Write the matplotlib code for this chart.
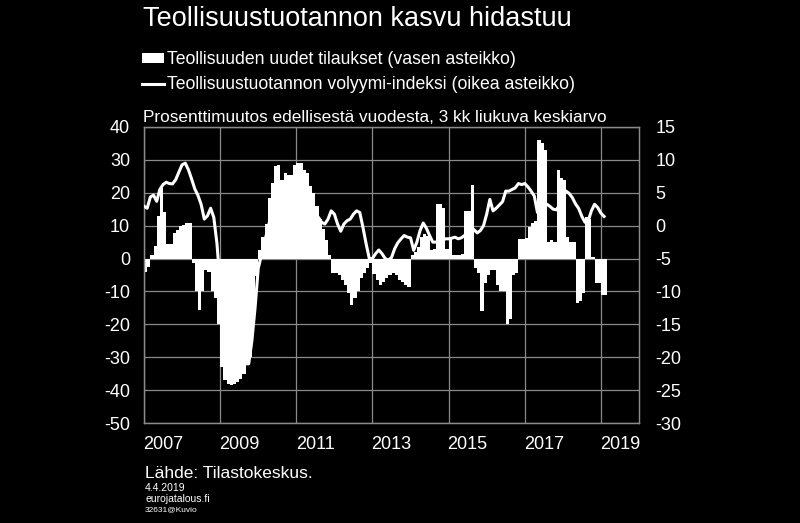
import numpy as np
import matplotlib
matplotlib.use("Agg")
import matplotlib.pyplot as plt

# Kuukausidata tammikuu 2007 - helmikuu 2019
alku_vuosi = 2007

# Teollisuuden uudet tilaukset, % (vasen asteikko)
tilaukset = [
    -4, -2.5, 1, 3.7, 12.8, 21.5, 14.3, 4.5, 4.5, 7.7, 8.8, 9.8,               # 2007
    10.3, 10.8, 10.8, -1.4, -10, -15.6, -10, -3.5, -4, -10, -12, -20,          # 2008
    -33, -37, -38, -38.5, -38, -37.5, -36.5, -35, -32.5, -30, -19.6, -5.4,     # 2009
    2.5, 6.5, 10.5, 18.5, 23, 28, 28.5, 24, 26, 25.5, 25.5, 28.5,              # 2010
    29, 29, 27, 26, 22, 20, 16, 12, 9, 5.5, 1, -4.5,                           # 2011
    -4.5, -5, -6.5, -8, -10.5, -14, -12, -10, -6, -4.5, -3, -1.5,              # 2012
    -4.6, -6.6, -8, -7, -6, -5, -4.5, -5, -6.5, -7, -8, -8.5,                  # 2013
    1, 2, 3.5, 6.5, 7.5, 7, 2.5, 3, 16.7, 16.5, 15.3, 3,                       # 2014
    6, 1, 1, 1, 1.5, 14.4, 14.4, 22.5, -3, -4.5, -16, -7.5,                    # 2015
    -5, -3.5, -3.5, -8, -10, -10, -19.8, -18.3, -5, -4.5, 6, 6,                # 2016
    6.2, 9.7, 10.8, 11.5, 36, 35, 33, 5, 5.5, 5, 27, 24.5,                     # 2017
    24, 6.5, 5, 5, -13.5, -13, -10.5, 12.5, 12, 0.5, -7.5, -7.5,               # 2018
    -11, -11,                                                                  # 2019
]

# Teollisuustuotannon volyymi-indeksi, % (oikea asteikko)
tuotanto = [
    2.95, 2.65, 4.35, 4.65, 3.7, 5.5, 6.25, 6.6, 6.4, 6.35, 7, 8.15,
    9.25, 9.5, 8.5, 7.1, 5.6, 4.6, 3.25, 1, 1.5, 2.65, 1.25, -2.75,
    -9, -14, -18, -20, -21.5, -22, -22, -21.5, -21, -21, -17.5, -12.5,
    -6.5, -4.5, -2.5, -0.5, 1.5, 3, 4, 5, 5.5, 6, 6, 6,
    5.5, 5, 4.5, 4, 3, 2, 0.5, 1.25, 0.5, 0.25, 1, 2.25,
    1.75, 0.25, -0.85, 0.25, 0.75, 1, 1.75, 2.25, 2, -0.25, -2.75, -5,
    -5, -4.25, -3.7, -4.25, -5, -5.25, -4.85, -3.5, -2.6, -2, -1.5, -1.75,
    -1.85, -3.75, -2.5, -0.75, 0.4, -0.4, -1.5, -2.5, -2.5, -2.5, -2.25, -2,
    -2, -1.9, -1.75, -2, -1.85, -1.5, -1, -0.5, -0.6, -1.1, -0.75, 0,
    1.75, 4, 2.25, 2.65, 3.15, 3.65, 5.25, 5.25, 5.5, 5.75, 6.4, 6.25,
    6.4, 5.9, 5.25, 4.5, 2, 2.25, 2.75, 3.25, 2.9, 2.5, 2.4, 3.25,
    4.25, 5.25, 4.9, 4.25, 3.3, 2.6, 1.4, 0.5, 0.75, 2.25, 3.25, 2.75,
    1.9, 1.4,
]

vuodet = [2007, 2009, 2011, 2013, 2015, 2017, 2019]

plt.rcParams['font.family'] = ['Liberation Sans', 'DejaVu Sans']
plt.rcParams['axes.unicode_minus'] = False

aika = alku_vuosi + np.arange(len(tilaukset)) / 12
rajat = alku_vuosi + np.arange(len(tilaukset) + 1) / 12

fig = plt.figure(figsize=(8, 5.23), dpi=100, facecolor='black')
ax = fig.add_axes([0.18, 0.1912, 0.61875, 0.566])
ax.set_facecolor('black')

# kuukausipalkit ilman välejä -> yksi porrastettu täyttö
palkit = ax.stairs(tilaukset, rajat, baseline=0, fill=True, color='white', zorder=2)
ax.set_xlim(2007, 2020)
ax.set_ylim(-50, 40)
ax.set_yticks(range(-50, 41, 10))

# pystyviivat joka toinen vuosi, vuosiluvut vuoden keskelle
ax.set_xticks(vuodet)
ax.set_xticklabels([])
ax.set_xticks([v + 0.5 for v in vuodet], minor=True)
ax.set_xticklabels([str(v) for v in vuodet], minor=True)
ax.grid(True, which='major', color='#8a8a8a', linewidth=0.9, zorder=0)
ax.set_axisbelow(True)
ax.tick_params(axis='both', which='both', length=0, colors='white', labelsize=13)
ax.tick_params(axis='y', pad=10)
ax.tick_params(axis='x', which='minor', pad=9)

ax2 = ax.twinx()
viiva, = ax2.plot(aika, tuotanto, color='white', linewidth=2.2, zorder=3)
ax2.set_ylim(-30, 15)
ax2.set_yticks(range(-30, 16, 5))
ax2.tick_params(axis='y', length=0, colors='white', labelsize=13, pad=12)

for a in (ax, ax2):
    for s in a.spines.values():
        s.set_color('#8a8a8a')
        s.set_linewidth(0.9)

fig.text(143 / 800, 1 - 19 / 523, 'Teollisuustuotannon kasvu hidastuu', color='white',
         fontsize=19.5, va='center', ha='left')

fig.legend([palkit, viiva],
           ['Teollisuuden uudet tilaukset (vasen asteikko)',
            'Teollisuustuotannon volyymi-indeksi (oikea asteikko)'],
           loc='upper left', bbox_to_anchor=(142 / 800, 1 - 51 / 523), frameon=False,
           fontsize=12.7, labelcolor='white', handlelength=1.25, handleheight=0.5,
           handletextpad=0.18, labelspacing=0.47, borderpad=0, borderaxespad=0)

fig.text(143 / 800, 1 - 117 / 523, 'Prosenttimuutos edellisestä vuodesta, 3 kk liukuva keskiarvo',
         color='white', fontsize=12.4, va='center', ha='left')

fig.text(145 / 800, 1 - 473 / 523, 'Lähde: Tilastokeskus.', color='white', fontsize=12.5, va='center')
fig.text(145 / 800, 1 - 488 / 523, '4.4.2019', color='white', fontsize=7.5, va='center')
fig.text(145 / 800, 1 - 499 / 523, 'eurojatalous.fi', color='white', fontsize=7.5, va='center')
fig.text(145 / 800, 1 - 510 / 523, '32631@Kuvio', color='white', fontsize=6, va='center')

fig.savefig('out.png', dpi=100, facecolor='black')
